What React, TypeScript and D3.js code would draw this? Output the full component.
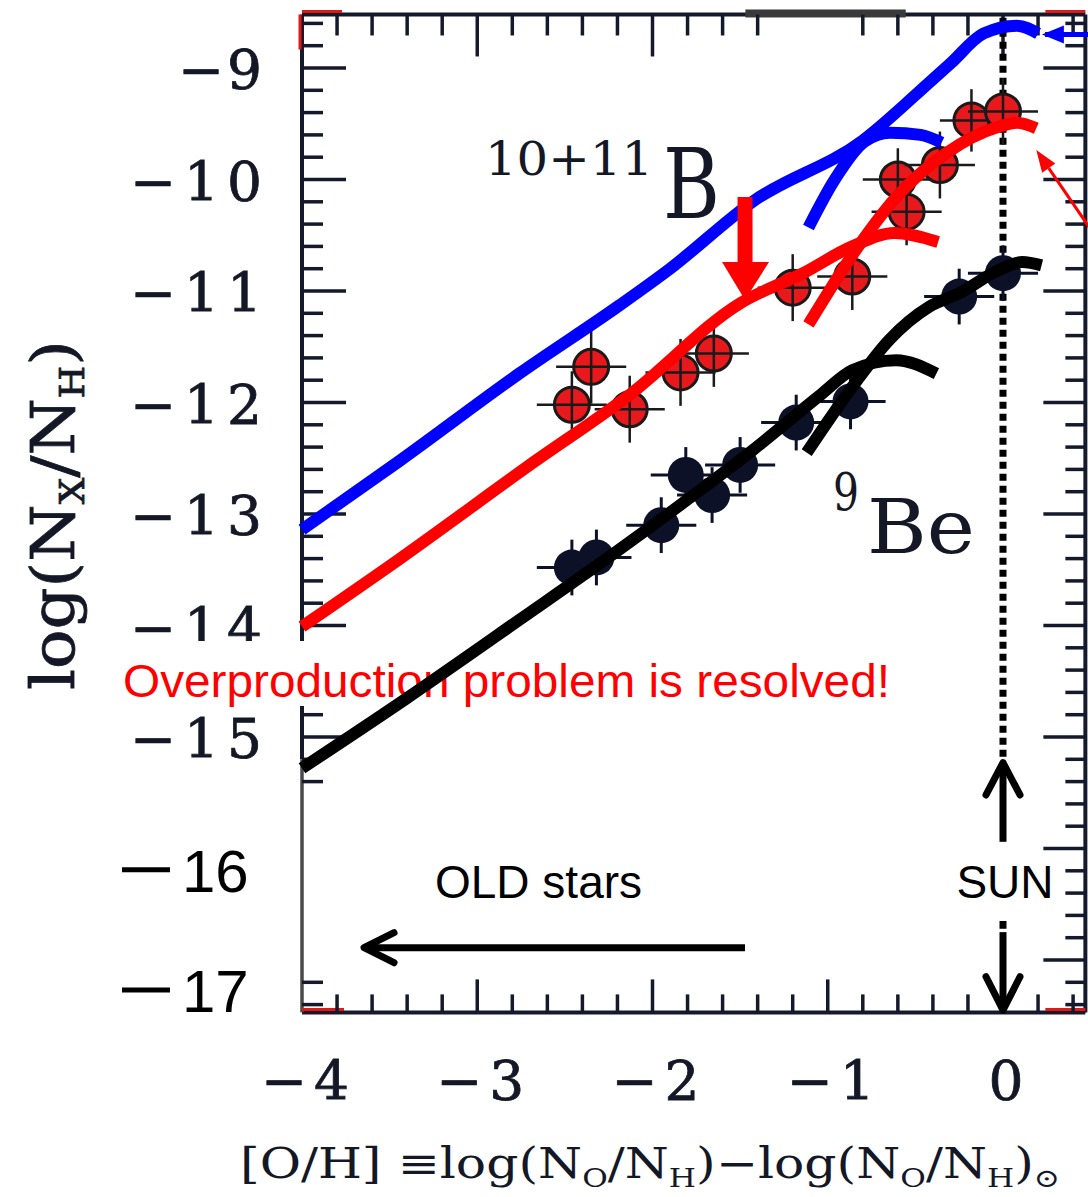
import React from 'react';
import * as d3 from 'd3';

const W = 1088;
const H = 1197;

// ---------- data ----------
// 10+11B observations: [O/H], log(N_B/N_H)
const B_OBS_X = [-2.46, -2.35, -2.13, -1.84, -1.65, -1.20, -0.86, -0.60, -0.55, -0.36, -0.18, 0.0];
const B_OBS_Y = [-12.02, -11.68, -12.06, -11.73, -11.56, -10.97, -10.87, -10.0, -10.29, -9.87, -9.47, -9.39];
const B_OBS_XERR = [0.2, 0.2, 0.2, 0.2, 0.2, 0.2, 0.2, 0.2, 0.2, 0.2, 0.18, 0.2];
const B_OBS_YERR = [0.3, 0.33, 0.3, 0.3, 0.3, 0.3, 0.3, 0.28, 0.3, 0.3, 0.28, 0.3];

// 9Be observations
const BE_OBS_X = [-2.46, -2.32, -1.95, -1.81, -1.66, -1.50, -1.18, -0.87, -0.25, 0.0];
const BE_OBS_Y = [-13.48, -13.39, -13.10, -12.65, -12.83, -12.56, -12.18, -11.99, -11.05, -10.84];
const BE_OBS_XERR = [0.2, 0.2, 0.2, 0.2, 0.2, 0.2, 0.2, 0.2, 0.2, 0.2];
const BE_OBS_YERR = [0.25, 0.25, 0.25, 0.25, 0.25, 0.25, 0.25, 0.25, 0.25, 0.25];

// model curves
const BLUE_MAIN_X = [-4, -3.44, -2.76, -2.19, -1.9, -1.43, -0.8, -0.4, -0.3, -0.11, 0.08, 0.2];
const BLUE_MAIN_Y = [-13.14, -12.52, -11.74, -11.13, -10.8, -10.2, -9.65, -9.1, -8.96, -8.69, -8.62, -8.69];
const BLUE_ARC_X = [-1.11, -0.96, -0.79, -0.645, -0.47, -0.35];
const BLUE_ARC_Y = [-10.43, -10.0, -9.66, -9.58, -9.6, -9.67];

const RED_MAIN_X = [-4, -3.44, -2.7, -2.13, -1.5, -1.14, -0.86, -0.62, -0.37];
const RED_MAIN_Y = [-14.01, -13.4, -12.56, -11.93, -11.11, -10.84, -10.6, -10.48, -10.56];
const RED_ARC_X = [-1.11, -0.83, -0.61, -0.32, -0.03, 0.08, 0.19];
const RED_ARC_Y = [-11.3, -10.61, -10.16, -9.76, -9.53, -9.49, -9.54];

const BLACK_MAIN_X = [-4, -3.4, -2.76, -2.19, -1.8, -1.43, -1.04, -0.86, -0.61, -0.38];
const BLACK_MAIN_Y = [-15.28, -14.65, -13.95, -13.32, -12.87, -12.43, -11.93, -11.71, -11.62, -11.74];
const BLACK_ARC_X = [-1.12, -0.86, -0.65, -0.42, -0.25, -0.02, 0.11, 0.22];
const BLACK_ARC_Y = [-12.45, -11.86, -11.44, -11.14, -11.02, -10.81, -10.74, -10.77];

// tick labels
const X_TICK_VALUES = [-4, -3, -2, -1, 0];
const X_TICK_LABELS = ['\u22124', '\u22123', '\u22122', '\u22121', '0'];
const Y_TICK_VALUES = [-9, -10, -11, -12, -13, -14, -15];
const Y_TICK_LABELS = ['\u22129', '\u221210', '\u221211', '\u221212', '\u221213', '\u221214', '\u221215'];
const EXTRA_Y_LABELS = ['16', '17'];
const EXTRA_Y_POS = [-16.19, -17.27];

const zip = (xs: number[], ys: number[]): [number, number][] => xs.map((v, i) => [v, ys[i]]);
const r1 = (v: number) => Math.round(v * 10) / 10;
const isInt = (v: number) => Math.abs(v - Math.round(v)) < 1e-6;

export default function App() {
  const x = d3.scaleLinear().domain([-4, 0]).range([302, 1003]);
  const y = d3.scaleLinear().domain([-9, -15]).range([68, 737]);

  const X0 = x(-4), X1 = x(0.47);
  const YT = y(-8.52), YB = y(-17.47);

  const line = d3
    .line<[number, number]>()
    .x((d) => x(d[0]))
    .y((d) => y(d[1]))
    .curve(d3.curveMonotoneX);

  const tickColor = '#141a2c';
  const serif = 'DejaVu Serif';
  const sans = 'Liberation Sans, Arial';
  const ink = '#141826';

  const leftTicks = d3.range(0, 35).map((i) => r1(-8.6 - 0.2 * i)).filter((v) => v >= -15.4).concat([-17.2, -17.4]);
  const rightTicks = d3.range(0, 45).map((i) => r1(-8.6 - 0.2 * i));
  const topTicks = d3.range(0, 22).map((i) => r1(-3.8 + 0.2 * i)).filter((v) => v !== -1.2 && v !== -1.0);
  const bottomTicks = d3.range(0, 22).map((i) => r1(-3.8 + 0.2 * i));

  const CW = 12;

  const bigArrowX = -1.472;
  const bigArrow = {
    shaftTop: y(-10.157),
    headBase: y(-10.74),
    tip: y(-11.08),
  };

  const curves: { xs: number[]; ys: number[]; c: string }[] = [
    { xs: BLUE_MAIN_X, ys: BLUE_MAIN_Y, c: '#0000ff' },
    { xs: BLUE_ARC_X, ys: BLUE_ARC_Y, c: '#0000ff' },
    { xs: RED_MAIN_X, ys: RED_MAIN_Y, c: '#ff0000' },
    { xs: RED_ARC_X, ys: RED_ARC_Y, c: '#ff0000' },
    { xs: BLACK_MAIN_X, ys: BLACK_MAIN_Y, c: '#000000' },
    { xs: BLACK_ARC_X, ys: BLACK_ARC_Y, c: '#000000' },
  ];

  return (
    <svg
      width={W}
      height={H}
      viewBox={`0 0 ${W} ${H}`}
      style={{ position: 'absolute', left: 0, top: 0, background: '#fff' }}
    >
      <rect x={0} y={0} width={W} height={H} fill="#fff" />

      {/* frame */}
      <line x1={X0} x2={X1} y1={YT} y2={YT} stroke={tickColor} strokeWidth={4} />
      <line x1={X0} x2={X1} y1={YB} y2={YB} stroke={tickColor} strokeWidth={4} />
      <line x1={X1} x2={X1} y1={YT} y2={YB} stroke={tickColor} strokeWidth={4} />
      <line x1={X0} x2={X0} y1={YT} y2={y(-15.2)} stroke={tickColor} strokeWidth={4} />
      <line x1={X0} x2={X0} y1={y(-15.2)} y2={YB} stroke="#4a4a4a" strokeWidth={3.5} />
      {/* red leftovers at corners */}
      <line x1={X0} x2={X0 + 40} y1={YT - 3} y2={YT - 3} stroke="#e01818" strokeWidth={3} />
      <line x1={X0 - 2} x2={X0 - 2} y1={YT} y2={YT + 35} stroke="#e01818" strokeWidth={3} />
      <line x1={X1 - 40} x2={X1} y1={YT - 3} y2={YT - 3} stroke="#e01818" strokeWidth={3} />
      <line x1={X0} x2={X0 + 42} y1={YB - 3} y2={YB - 3} stroke="#e01818" strokeWidth={3} />
      <line x1={X1 - 40} x2={X1} y1={YB - 3} y2={YB - 3} stroke="#e01818" strokeWidth={3} />
      {/* gray bar over top axis */}
      <rect x={x(-1.47)} y={YT - 5} width={x(-0.555) - x(-1.47)} height={8} fill="#3a3a3a" />

      {/* ticks */}
      {leftTicks.map((v) => (
        <line key={'l' + v} x1={X0} x2={X0 + (isInt(v) ? 44 : 21)} y1={y(v)} y2={y(v)} stroke={tickColor} strokeWidth={3.5} />
      ))}
      {rightTicks.map((v) => (
        <line key={'r' + v} x1={X1} x2={X1 - (isInt(v) ? 42 : 20)} y1={y(v)} y2={y(v)} stroke={tickColor} strokeWidth={3.5} />
      ))}
      {topTicks.map((v) => (
        <line key={'t' + v} x1={x(v)} x2={x(v)} y1={YT} y2={YT + (isInt(v) ? 42 : 21)} stroke={tickColor} strokeWidth={3.5} />
      ))}
      {bottomTicks.map((v) => (
        <line key={'b' + v} x1={x(v)} x2={x(v)} y1={YB} y2={YB - (isInt(v) ? 33 : 18)} stroke={tickColor} strokeWidth={3.5} />
      ))}

      {/* tick labels */}
      {Y_TICK_VALUES.map((v, i) => (
        <text
          key={'yl' + v}
          x={262}
          y={y(v) + 21}
          textAnchor="end"
          fontFamily={serif}
          fontSize={55}
          fill={ink}
          stroke={ink}
          strokeWidth={0.8}
          textLength={Y_TICK_LABELS[i].length === 2 ? 84 : 132}
          lengthAdjust="spacing"
        >
          {Y_TICK_LABELS[i]}
        </text>
      ))}
      {EXTRA_Y_LABELS.map((t, i) => (
        <g key={'ex' + t}>
          <line x1={122} x2={170} y1={y(EXTRA_Y_POS[i])} y2={y(EXTRA_Y_POS[i])} stroke="#000" strokeWidth={5} />
          <text x={182} y={y(EXTRA_Y_POS[i]) + 22} fontFamily={sans} fontSize={60} fill="#000">
            {t}
          </text>
        </g>
      ))}
      {X_TICK_VALUES.map((v, i) => (
        <text
          key={'xl' + v}
          x={x(v) + 3}
          y={1100}
          textAnchor="middle"
          fontFamily={serif}
          fontSize={55}
          fill={ink}
          stroke={ink}
          strokeWidth={0.8}
          textLength={X_TICK_LABELS[i].length === 2 ? 88 : 42}
          lengthAdjust="spacing"
        >
          {X_TICK_LABELS[i]}
        </text>
      ))}

      {/* axis titles */}
      <text x={240} y={1178} fontFamily={serif} fontSize={42} fill={ink} textLength={820} lengthAdjust="spacingAndGlyphs">
        [O/H] {'\u2261'}log(N<tspan fontSize={26} dy={9}>O</tspan>
        <tspan dy={-9}>/N</tspan>
        <tspan fontSize={26} dy={9}>H</tspan>
        <tspan dy={-9}>){'\u2212'}log(N</tspan>
        <tspan fontSize={26} dy={9}>O</tspan>
        <tspan dy={-9}>/N</tspan>
        <tspan fontSize={26} dy={9}>H</tspan>
        <tspan dy={-9}>)</tspan>
        <tspan fontSize={26} dy={9}>{'\u2299'}</tspan>
      </text>
      <text
        transform="translate(74, 515) rotate(-90)"
        textAnchor="middle"
        fontFamily={serif}
        fontSize={60}
        fill={ink}
        stroke={ink}
        strokeWidth={0.8}
        textLength={350}
        lengthAdjust="spacingAndGlyphs"
      >
        log(N<tspan fontSize={34} dy={10}>X</tspan>
        <tspan dy={-10}>/N</tspan>
        <tspan fontSize={34} dy={10}>H</tspan>
        <tspan dy={-10}>)</tspan>
      </text>

      {/* in-plot labels */}
      <text x={485} y={175} fontFamily={serif} fontSize={46} fill={ink} textLength={168} lengthAdjust="spacingAndGlyphs">
        10+11
      </text>
      <text x={663} y={218} fontFamily={serif} fontSize={98} fill={ink} textLength={57} lengthAdjust="spacingAndGlyphs">
        B
      </text>
      <text x={833} y={510} fontFamily={serif} fontSize={52} fill={ink} textLength={26} lengthAdjust="spacingAndGlyphs">
        9
      </text>
      <text x={867} y={553} fontFamily={serif} fontSize={74} fill={ink} textLength={108} lengthAdjust="spacingAndGlyphs">
        Be
      </text>

      {/* dotted solar line */}
      <line x1={x(0)} x2={x(0)} y1={y(-8.55)} y2={y(-15.2)} stroke="#000" strokeWidth={7} strokeDasharray="7 5" />
      <line x1={x(0)} x2={x(0)} y1={y(-16.65)} y2={y(-16.72)} stroke="#000" strokeWidth={7} />

      {/* observations: Be */}
      {BE_OBS_X.map((vx, i) => {
        const cx = x(vx), cy = y(BE_OBS_Y[i]);
        return (
          <g key={'be' + i}>
            <line x1={x(vx - BE_OBS_XERR[i])} x2={x(vx + BE_OBS_XERR[i])} y1={cy} y2={cy} stroke="#0c1128" strokeWidth={3} />
            <line x1={cx} x2={cx} y1={y(BE_OBS_Y[i] + BE_OBS_YERR[i])} y2={y(BE_OBS_Y[i] - BE_OBS_YERR[i])} stroke="#0c1128" strokeWidth={3} />
            <circle cx={cx} cy={cy} r={18} fill="#0c1128" />
          </g>
        );
      })}

      {/* observations: B */}
      {B_OBS_X.map((vx, i) => {
        const cx = x(vx), cy = y(B_OBS_Y[i]);
        return (
          <g key={'b' + i}>
            <circle cx={cx} cy={cy} r={17.5} fill="#e8191c" stroke="#1a1a1a" strokeWidth={3} />
            <line x1={x(vx - B_OBS_XERR[i])} x2={x(vx + B_OBS_XERR[i])} y1={cy} y2={cy} stroke="#1a1a1a" strokeWidth={2.5} />
            <line x1={cx} x2={cx} y1={y(B_OBS_Y[i] + B_OBS_YERR[i])} y2={y(B_OBS_Y[i] - B_OBS_YERR[i])} stroke="#1a1a1a" strokeWidth={2.5} />
          </g>
        );
      })}

      {/* overproduction banner */}
      <rect x={115} y={641} width={780} height={65} fill="#fff" />
      <text x={123} y={697} fontFamily={sans} fontSize={47} fill="#ff0000" textLength={767} lengthAdjust="spacingAndGlyphs">
        Overproduction problem is resolved!
      </text>

      {/* model curves */}
      {curves.map((c, i) => (
        <path
          key={'c' + i}
          d={line(zip(c.xs, c.ys)) || ''}
          fill="none"
          stroke={c.c}
          strokeWidth={CW}
          strokeLinecap="butt"
          strokeLinejoin="round"
        />
      ))}

      {/* big red arrow */}
      <rect x={x(bigArrowX) - 7.5} y={bigArrow.shaftTop} width={15} height={bigArrow.headBase - bigArrow.shaftTop + 1} fill="#ff0000" />
      <polygon
        points={`${x(bigArrowX) - 23},${bigArrow.headBase} ${x(bigArrowX) + 24},${bigArrow.headBase} ${x(bigArrowX)},${bigArrow.tip}`}
        fill="#ff0000"
      />

      {/* small blue arrow (top right) */}
      <line x1={x(0.5)} x2={x(0.24)} y1={y(-8.7)} y2={y(-8.7)} stroke="#0000ff" strokeWidth={5} />
      <polygon points={`${x(0.222)},${y(-8.7)} ${x(0.222) + 22},${y(-8.7) - 9} ${x(0.222) + 22},${y(-8.7) + 9}`} fill="#0000ff" />

      {/* thin red arrow */}
      {(() => {
        const tx = x(0.19), ty = y(-9.735);
        const sx = x(0.51), sy = y(-10.47);
        const ang = Math.atan2(sy - ty, sx - tx);
        const L = 22, hw = 8;
        const bx = tx + L * Math.cos(ang), by = ty + L * Math.sin(ang);
        const px = -Math.sin(ang), py = Math.cos(ang);
        return (
          <g>
            <line x1={sx} y1={sy} x2={bx} y2={by} stroke="#ff0000" strokeWidth={3} />
            <polygon points={`${tx},${ty} ${bx + hw * px},${by + hw * py} ${bx - hw * px},${by - hw * py}`} fill="#ff0000" />
          </g>
        );
      })()}

      {/* SUN arrows */}
      <line x1={x(0)} x2={x(0)} y1={y(-15.94)} y2={y(-15.25)} stroke="#000" strokeWidth={7} />
      <polyline
        points={`${x(0) - 17},${y(-15.52)} ${x(0)},${y(-15.23)} ${x(0) + 17},${y(-15.52)}`}
        fill="none"
        stroke="#000"
        strokeWidth={7}
        strokeLinecap="round"
        strokeLinejoin="round"
      />
      <line x1={x(0)} x2={x(0)} y1={y(-16.75)} y2={y(-17.42)} stroke="#000" strokeWidth={7} />
      <polyline
        points={`${x(0) - 17},${y(-17.15)} ${x(0)},${y(-17.45)} ${x(0) + 17},${y(-17.15)}`}
        fill="none"
        stroke="#000"
        strokeWidth={7}
        strokeLinecap="round"
        strokeLinejoin="round"
      />
      <text x={x(0) + 2} y={898} textAnchor="middle" fontFamily={sans} fontSize={46} fill="#000">
        SUN
      </text>

      {/* OLD stars arrow */}
      <line x1={x(-1.472)} x2={x(-3.63)} y1={y(-16.89)} y2={y(-16.89)} stroke="#000" strokeWidth={7} />
      <polyline
        points={`${x(-3.646) + 30},${y(-16.89) - 15} ${x(-3.646)},${y(-16.89)} ${x(-3.646) + 30},${y(-16.89) + 15}`}
        fill="none"
        stroke="#000"
        strokeWidth={7}
        strokeLinecap="round"
        strokeLinejoin="round"
      />
      <text x={435} y={898} fontFamily={sans} fontSize={46} fill="#000">
        OLD stars
      </text>
    </svg>
  );
}
